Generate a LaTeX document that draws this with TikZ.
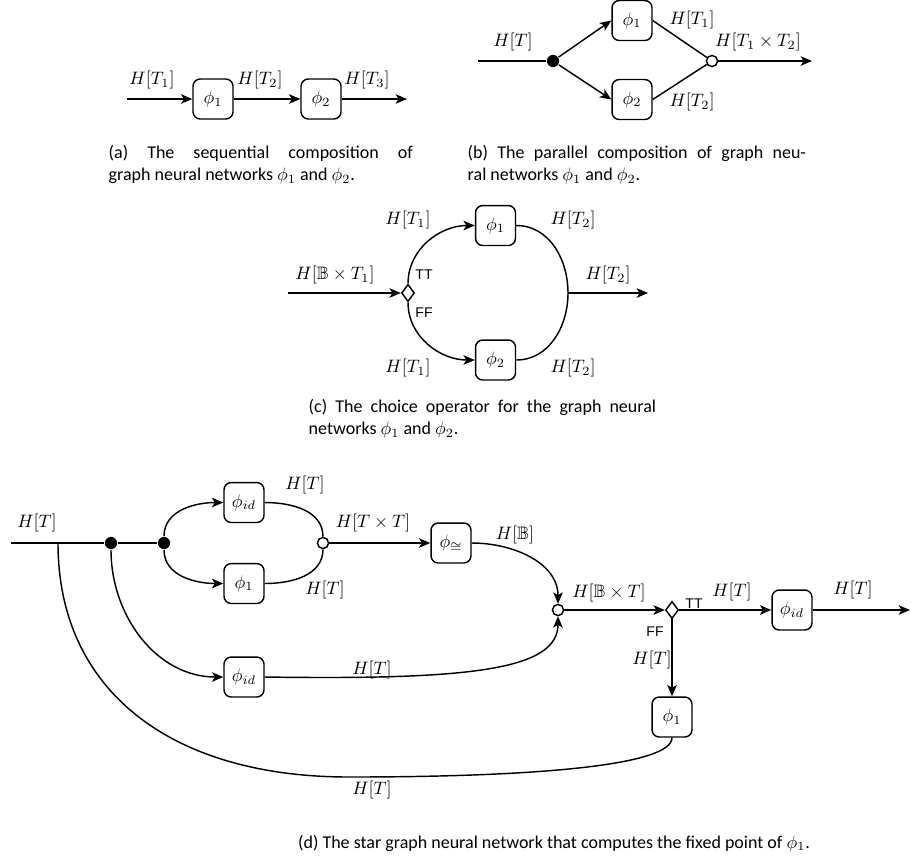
\documentclass[tikz,border=0pt]{standalone}
\usepackage[no-math]{fontspec}
\setmainfont{Carlito}
\newfontfamily\tagfont{Liberation Sans}
\usepackage{amssymb}
\usetikzlibrary{arrows.meta,shapes.geometric}
\setlength{\parindent}{0pt}
\begin{document}
\begin{tikzpicture}[x=0.5556pt,y=0.5556pt,
  line width=0.8pt,
  fbox/.style={draw, rounded corners=4pt, minimum width=22.2pt, minimum height=22.2pt, inner sep=0pt, fill=white},
  bdot/.style={circle, fill=black, minimum size=6.8pt, inner sep=0pt},
  wdot/.style={circle, draw, fill=white, minimum size=6.2pt, inner sep=0pt},
  choice/.style={diamond, draw, fill=white, minimum width=7.2pt, minimum height=9.6pt, inner sep=0pt},
  lbl/.style={inner sep=0pt},
  tagtxt/.style={inner sep=0pt, font=\tagfont\fontsize{7.8}{9}\selectfont},
  arr/.style={-{Stealth[length=6.3pt,width=5.3pt,inset=1.6pt]}},
  captxt/.style={anchor=base west, inner sep=0pt, align=justify, font=\fontsize{10}{12.6}\selectfont},
]
\useasboundingbox (0,0) rectangle (911,-861);

% (a)
\coordinate (ain) at (127,-99);
\node[fbox] (a1) at (213,-99) {$\phi_1$};
\node[fbox] (a2) at (321,-99) {$\phi_2$};
\coordinate (aout) at (407,-99);
\draw[arr] (ain) -- (a1);
\draw[arr] (a1) -- (a2);
\draw[arr] (a2) -- (aout);
\node[lbl] (la1) at (152,-80) {$H[T_1]$};
\node[lbl] (la2) at (260,-80) {$H[T_2]$};
\node[lbl] (la3) at (367,-80) {$H[T_3]$};
\node[captxt, text width=169pt] (capa) at (108,-158) {(a) The sequential composition of\linebreak graph neural networks $\phi_1$ and $\phi_2$.};

% (b)
\coordinate (bin) at (478,-61);
\node[bdot] (bs) at (553,-61) {};
\node[fbox] (b1) at (632,-20.5) {$\phi_1$};
\node[fbox] (b2) at (632,-99.5) {$\phi_2$};
\node[wdot] (bj) at (712,-61) {};
\coordinate (bout) at (812,-61);
\draw (bin) -- (bs);
\draw[arr] (bs) -- (b1.west);
\draw[arr] (bs) -- (b2.west);
\draw (b1.east) -- (bj);
\draw (b2.east) -- (bj);
\draw[arr] (bj) -- (bout);
\node[lbl] (lb1) at (513,-42) {$H[T]$};
\node[lbl] (lb2) at (692,-20) {$H[T_1]$};
\node[lbl] (lb3) at (758,-42) {$H[T_1\times T_2]$};
\node[lbl] (lb4) at (692,-102) {$H[T_2]$};
\node[captxt, text width=188pt] (capb) at (467,-158) {(b) The parallel composition of graph neu-\linebreak ral networks $\phi_1$ and $\phi_2$.};

% (c)
\coordinate (cin) at (288,-293);
\node[choice] (cd) at (408,-293) {};
\node[fbox] (c1) at (495.5,-225.5) {$\phi_1$};
\node[fbox] (c2) at (495.5,-360) {$\phi_2$};
\coordinate (cj) at (568,-293);
\coordinate (cout) at (648,-293);
\draw[arr] (cin) -- (cd.west);
\draw[arr] (cd.north) to[out=90,in=180] (c1.west);
\draw[arr] (cd.south) to[out=-90,in=180] (c2.west);
\draw (c1.east) to[out=0,in=90] (cj);
\draw (c2.east) to[out=0,in=-90] (cj);
\draw[arr] (cj) -- (cout);
\node[lbl] (lc1) at (408,-220) {$H[T_1]$};
\node[lbl] (lc2) at (573,-220) {$H[T_2]$};
\node[lbl] (lc3) at (335,-275) {$H[\mathbb{B}\times T_1]$};
\node[lbl] (lc4) at (608,-275) {$H[T_2]$};
\node[lbl] (lc5) at (408,-368) {$H[T_1]$};
\node[lbl] (lc6) at (573,-368) {$H[T_2]$};
\node[tagtxt] (tc1) at (424,-275) {TT};
\node[tagtxt] (tc2) at (424,-313) {FF};
\node[captxt, text width=193pt] (capc) at (308,-412) {(c) The choice operator for the graph neural\linebreak networks $\phi_1$ and $\phi_2$.};

% (d)
\coordinate (din) at (11,-543);
\coordinate (dbr) at (58,-543);
\node[bdot] (dd1) at (111,-543) {};
\node[bdot] (dd2) at (164,-543) {};
\node[fbox] (did1) at (244,-502.5) {$\phi_{id}$};
\node[fbox] (dp1) at (244,-583.5) {$\phi_1$};
\node[wdot] (dj1) at (323,-543) {};
\node[fbox] (dcong) at (451,-543) {$\phi_{\cong}$};
\node[fbox] (did2) at (244,-677) {$\phi_{id}$};
\node[wdot] (dj2) at (558,-610) {};
\node[choice] (dc) at (672,-610) {};
\node[fbox] (did3) at (792,-610) {$\phi_{id}$};
\coordinate (dout) at (910,-610);
\node[fbox] (dp2) at (672,-717) {$\phi_1$};
\draw (din) -- (dbr) -- (dd1) -- (dd2);
\draw[arr] (dd2) to[out=90,in=180] (did1.west);
\draw[arr] (dd2) to[out=-90,in=180] (dp1.west);
\draw (did1.east) to[out=0,in=90] (dj1);
\draw (dp1.east) to[out=0,in=-90] (dj1);
\draw[arr] (dj1) -- (dcong);
\draw[arr] (dcong.east) to[out=0,in=90] (dj2);
\draw[arr] (dd1) to[out=-90,in=180] (did2.west);
\draw[arr] (did2.east) .. controls (470,-680) and (558,-670) .. (dj2.south);
\draw[arr] (dj2) -- (dc.west);
\draw[arr] (dc.east) -- (did3);
\draw[arr] (did3) -- (dout);
\draw[arr] (dc.south) -- (dp2);
\draw (dp2.south) .. controls (672,-765) and (540,-777) .. (349,-777) .. controls (170,-777) and (58,-690) .. (dbr);
\node[lbl] (ld1) at (37,-523) {$H[T]$};
\node[lbl] (ld2) at (305,-485) {$H[T]$};
\node[lbl] (ld3) at (373,-523) {$H[T\times T]$};
\node[lbl] (ld4) at (325,-590) {$H[T]$};
\node[lbl] (ld5) at (515,-535) {$H[\mathbb{B}]$};
\node[lbl] (ld6) at (609,-593) {$H[\mathbb{B}\times T]$};
\node[lbl] (ld7) at (732,-592) {$H[T]$};
\node[lbl] (ld8) at (853,-590) {$H[T]$};
\node[lbl] (ld9) at (652,-660) {$H[T]$};
\node[lbl] (ld10) at (372,-670) {$H[T]$};
\node[lbl] (ld11) at (372,-790) {$H[T]$};
\node[tagtxt] (td1) at (694,-604) {TT};
\node[tagtxt] (td2) at (655,-632) {FF};
\node[captxt, anchor=base, align=center] (capd) at (554,-848) {(d) The star graph neural network that computes the fixed point of $\phi_1$.};
\end{tikzpicture}
\end{document}
